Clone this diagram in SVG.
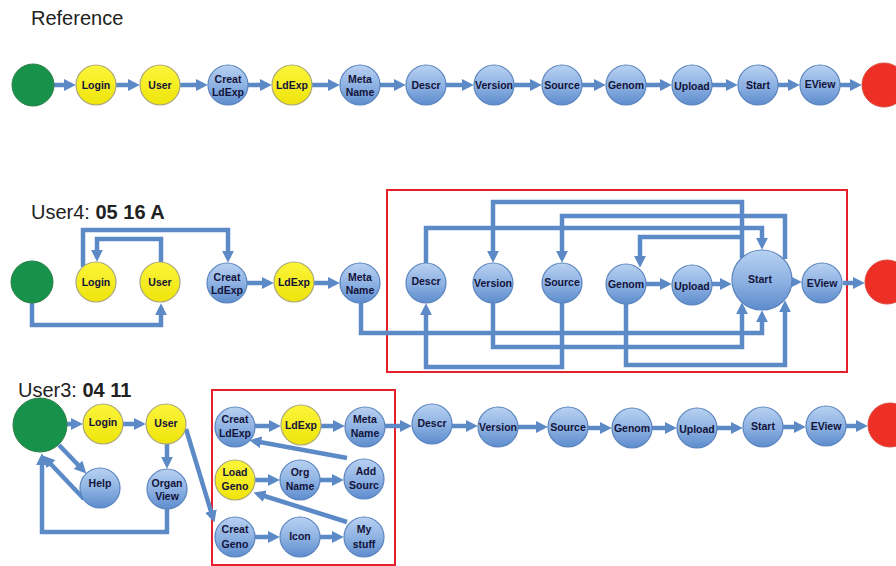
<svg xmlns="http://www.w3.org/2000/svg" width="896" height="566" viewBox="0 0 896 566">
<defs>
<linearGradient id="gb" x1="0" y1="0" x2="0" y2="1">
<stop offset="0" stop-color="#b8d1f1"/>
<stop offset="0.5" stop-color="#8fb3e3"/>
<stop offset="1" stop-color="#5d8ccd"/>
</linearGradient>
<linearGradient id="gy" x1="0" y1="0" x2="0" y2="1">
<stop offset="0" stop-color="#fbf53a"/>
<stop offset="1" stop-color="#efe40c"/>
</linearGradient>
<marker id="ah" viewBox="0 0 10 10" refX="6" refY="5" markerWidth="12" markerHeight="12" markerUnits="userSpaceOnUse" orient="auto">
<path d="M0,0 L10,5 L0,10 z" fill="#5b8ac6"/>
</marker>
<style>
.b{fill:url(#gb);stroke:#5a84bd;stroke-width:1.2}
.y{fill:url(#gy);stroke:#a9a57c;stroke-width:1.2}
.g{fill:#16924b;stroke:#2f7d47;stroke-width:1}
.r{fill:#ee2f25;stroke:#d94a3e;stroke-width:1}
.t{font-family:"Liberation Sans",Arial,sans-serif;font-weight:bold;font-size:10.5px;fill:#13133a;text-anchor:middle}
.c{fill:none;stroke:#5b8ac6;stroke-width:4.5;marker-end:url(#ah)}
.box{fill:none;stroke:#e3202b;stroke-width:2}
.h{font-family:"Liberation Sans",Arial,sans-serif;font-size:20px;fill:#222}
.hb{font-weight:bold}
</style>
</defs>
<rect width="896" height="566" fill="#ffffff"/>

<text class="h" x="31" y="25">Reference</text>
<text class="h" x="31" y="219">User4: <tspan class="hb">05 16 A</tspan></text>
<text class="h" x="18" y="397">User3: <tspan class="hb">04 11</tspan></text>

<g id="frames">
<rect class="box" x="387" y="190" width="460" height="182"/>
<rect class="box" x="212" y="390" width="183" height="175"/>
</g>

<g id="connectors">
<!-- reference row -->
<path class="c" d="M54,85 H71"/>
<path class="c" d="M116,85 H135"/>
<path class="c" d="M180,85 H203"/>
<path class="c" d="M248,85 H267"/>
<path class="c" d="M312,85 H335"/>
<path class="c" d="M380,85 H401"/>
<path class="c" d="M446,85 H469"/>
<path class="c" d="M514,85 H537"/>
<path class="c" d="M582,85 H601"/>
<path class="c" d="M646,85 H667"/>
<path class="c" d="M712,85 H733"/>
<path class="c" d="M778,85 H795"/>
<path class="c" d="M840,85 H857"/>
<!-- user4 -->
<path class="c" d="M32,303 V325 H161 V308"/>
<path class="c" d="M83,267 V230 H228 V258"/>
<path class="c" d="M161,262 V239 H97 V257"/>
<path class="c" d="M247,283 H269"/>
<path class="c" d="M314,283 H335"/>
<path class="c" d="M361,303 V333 H762 V315"/>
<path class="c" d="M493,303 V347 H742 V307"/>
<path class="c" d="M562,303 V367 H426 V308"/>
<path class="c" d="M626,304 V365 H785 V305"/>
<path class="c" d="M426,263 V228 H762 V245"/>
<path class="c" d="M742,258 V202 H493 V258"/>
<path class="c" d="M742,237 H640 V263"/>
<path class="c" d="M785,259 V216 H562 V258"/>
<path class="c" d="M646,284 H667"/>
<path class="c" d="M712,284 H727"/>
<path class="c" d="M782,282 H797"/>
<path class="c" d="M843,283 H860"/>
<!-- user3 -->
<path class="c" d="M67,424 H78"/>
<path class="c" d="M123,424 H141"/>
<path class="c" d="M167,444 V464"/>
<path class="c" d="M59,445 L83,470"/>
<path class="c" d="M84,499 L46,459"/>
<path class="c" d="M167,509 V532 H42 V458"/>
<path class="c" d="M186,429 L213,518"/>
<path class="c" d="M255,426 H276"/>
<path class="c" d="M321,426 H340"/>
<path class="c" d="M385,426 H407"/>
<path class="c" d="M452,426 H473"/>
<path class="c" d="M518,427 H543"/>
<path class="c" d="M588,428 H607"/>
<path class="c" d="M652,428 H672"/>
<path class="c" d="M717,428 H738"/>
<path class="c" d="M783,427 H801"/>
<path class="c" d="M846,426 H863"/>
<path class="c" d="M347,458 L254,441"/>
<path class="c" d="M255,480 H275"/>
<path class="c" d="M320,480 H339"/>
<path class="c" d="M347,522 L258,494"/>
<path class="c" d="M255,537 H275"/>
<path class="c" d="M320,537 H339"/>
</g>

<!-- Reference row nodes -->
<g id="ref-begin"><circle class="g" cx="33" cy="85" r="21"/></g>
<g id="ref-login"><circle class="y" cx="96" cy="85" r="20"/><text class="t" x="96" y="88.5">Login</text></g>
<g id="ref-user"><circle class="y" cx="160" cy="85" r="20"/><text class="t" x="160" y="88.5">User</text></g>
<g id="ref-creatldexp"><circle class="b" cx="228" cy="85" r="20"/><text class="t" x="228" y="83">Creat</text><text class="t" x="228" y="96">LdExp</text></g>
<g id="ref-ldexp"><circle class="y" cx="292" cy="85" r="20"/><text class="t" x="292" y="88.5">LdExp</text></g>
<g id="ref-metaname"><circle class="b" cx="360" cy="85" r="20"/><text class="t" x="360" y="83">Meta</text><text class="t" x="360" y="96">Name</text></g>
<g id="ref-descr"><circle class="b" cx="426" cy="85" r="20"/><text class="t" x="426" y="88.5">Descr</text></g>
<g id="ref-version"><circle class="b" cx="494" cy="85" r="20"/><text class="t" x="494" y="89">Version</text></g>
<g id="ref-source"><circle class="b" cx="562" cy="85" r="20"/><text class="t" x="562" y="89">Source</text></g>
<g id="ref-genom"><circle class="b" cx="626" cy="85" r="20"/><text class="t" x="626" y="89">Genom</text></g>
<g id="ref-upload"><circle class="b" cx="692" cy="85" r="20"/><text class="t" x="692" y="90">Upload</text></g>
<g id="ref-start"><circle class="b" cx="758" cy="85" r="20"/><text class="t" x="758" y="89">Start</text></g>
<g id="ref-eview"><circle class="b" cx="820" cy="85" r="20"/><text class="t" x="820" y="88">EView</text></g>
<g id="ref-end"><circle class="r" cx="884" cy="85" r="22"/></g>

<!-- User4 nodes -->
<g id="u4-begin"><circle class="g" cx="32" cy="282" r="21"/></g>
<g id="u4-login"><circle class="y" cx="96" cy="282" r="20"/><text class="t" x="96" y="285.5">Login</text></g>
<g id="u4-user"><circle class="y" cx="160" cy="282" r="20"/><text class="t" x="160" y="285.5">User</text></g>
<g id="u4-creatldexp"><circle class="b" cx="227" cy="283" r="20"/><text class="t" x="227" y="281">Creat</text><text class="t" x="227" y="294">LdExp</text></g>
<g id="u4-ldexp"><circle class="y" cx="294" cy="282" r="20"/><text class="t" x="294" y="285.5">LdExp</text></g>
<g id="u4-metaname"><circle class="b" cx="360" cy="283" r="20"/><text class="t" x="360" y="281">Meta</text><text class="t" x="360" y="294">Name</text></g>
<g id="u4-descr"><circle class="b" cx="426" cy="283" r="20"/><text class="t" x="426" y="285">Descr</text></g>
<g id="u4-version"><circle class="b" cx="493" cy="283" r="20"/><text class="t" x="493" y="287">Version</text></g>
<g id="u4-source"><circle class="b" cx="562" cy="283" r="20"/><text class="t" x="562" y="286">Source</text></g>
<g id="u4-genom"><circle class="b" cx="626" cy="284" r="20"/><text class="t" x="626" y="288">Genom</text></g>
<g id="u4-upload"><circle class="b" cx="692" cy="285" r="20"/><text class="t" x="692" y="290">Upload</text></g>
<g id="u4-start"><circle class="b" cx="762" cy="280" r="30"/><text class="t" x="760" y="283">Start</text></g>
<g id="u4-eview"><circle class="b" cx="822" cy="283" r="20"/><text class="t" x="822" y="286.5">EView</text></g>
<g id="u4-end"><circle class="r" cx="887" cy="282" r="22"/></g>

<!-- User3 nodes -->
<g id="u3-begin"><circle class="g" cx="40" cy="425" r="27"/></g>
<g id="u3-login"><circle class="y" cx="103" cy="424" r="20"/><text class="t" x="103" y="426">Login</text></g>
<g id="u3-user"><circle class="y" cx="166" cy="424" r="20"/><text class="t" x="166" y="427">User</text></g>
<g id="u3-help"><circle class="b" cx="100" cy="488" r="20"/><text class="t" x="100" y="487">Help</text></g>
<g id="u3-organview"><circle class="b" cx="167" cy="489" r="20"/><text class="t" x="167" y="487">Organ</text><text class="t" x="167" y="500">View</text></g>
<g id="u3-creatldexp"><circle class="b" cx="235" cy="427" r="20"/><text class="t" x="235" y="423">Creat</text><text class="t" x="235" y="437">LdExp</text></g>
<g id="u3-ldexp"><circle class="y" cx="301" cy="425" r="20"/><text class="t" x="301" y="428.5">LdExp</text></g>
<g id="u3-metaname"><circle class="b" cx="365" cy="427" r="20"/><text class="t" x="365" y="423">Meta</text><text class="t" x="365" y="437">Name</text></g>
<g id="u3-loadgeno"><circle class="y" cx="235" cy="480" r="20"/><text class="t" x="235" y="476">Load</text><text class="t" x="235" y="490">Geno</text></g>
<g id="u3-orgname"><circle class="b" cx="300" cy="480" r="20"/><text class="t" x="300" y="476">Org</text><text class="t" x="300" y="490">Name</text></g>
<g id="u3-addsourc"><circle class="b" cx="364" cy="479" r="20"/><text class="t" x="366" y="475">Add</text><text class="t" x="364" y="489">Sourc</text></g>
<g id="u3-creatgeno"><circle class="b" cx="235" cy="537" r="20"/><text class="t" x="235" y="533">Creat</text><text class="t" x="235" y="548">Geno</text></g>
<g id="u3-icon"><circle class="b" cx="300" cy="537" r="20"/><text class="t" x="300" y="540">Icon</text></g>
<g id="u3-mystuff"><circle class="b" cx="364" cy="537" r="20"/><text class="t" x="364" y="533">My</text><text class="t" x="364" y="548">stuff</text></g>
<g id="u3-descr"><circle class="b" cx="432" cy="424" r="20"/><text class="t" x="432" y="427">Descr</text></g>
<g id="u3-version"><circle class="b" cx="498" cy="427" r="20"/><text class="t" x="498" y="430.5">Version</text></g>
<g id="u3-source"><circle class="b" cx="568" cy="427" r="20"/><text class="t" x="568" y="430.5">Source</text></g>
<g id="u3-genom"><circle class="b" cx="632" cy="428" r="20"/><text class="t" x="632" y="432">Genom</text></g>
<g id="u3-upload"><circle class="b" cx="697" cy="428" r="20"/><text class="t" x="697" y="432.5">Upload</text></g>
<g id="u3-start"><circle class="b" cx="763" cy="427" r="20"/><text class="t" x="763" y="430">Start</text></g>
<g id="u3-eview"><circle class="b" cx="826" cy="426" r="20"/><text class="t" x="826" y="430">EView</text></g>
<g id="u3-end"><circle class="r" cx="890" cy="425" r="22"/></g>
</svg>
